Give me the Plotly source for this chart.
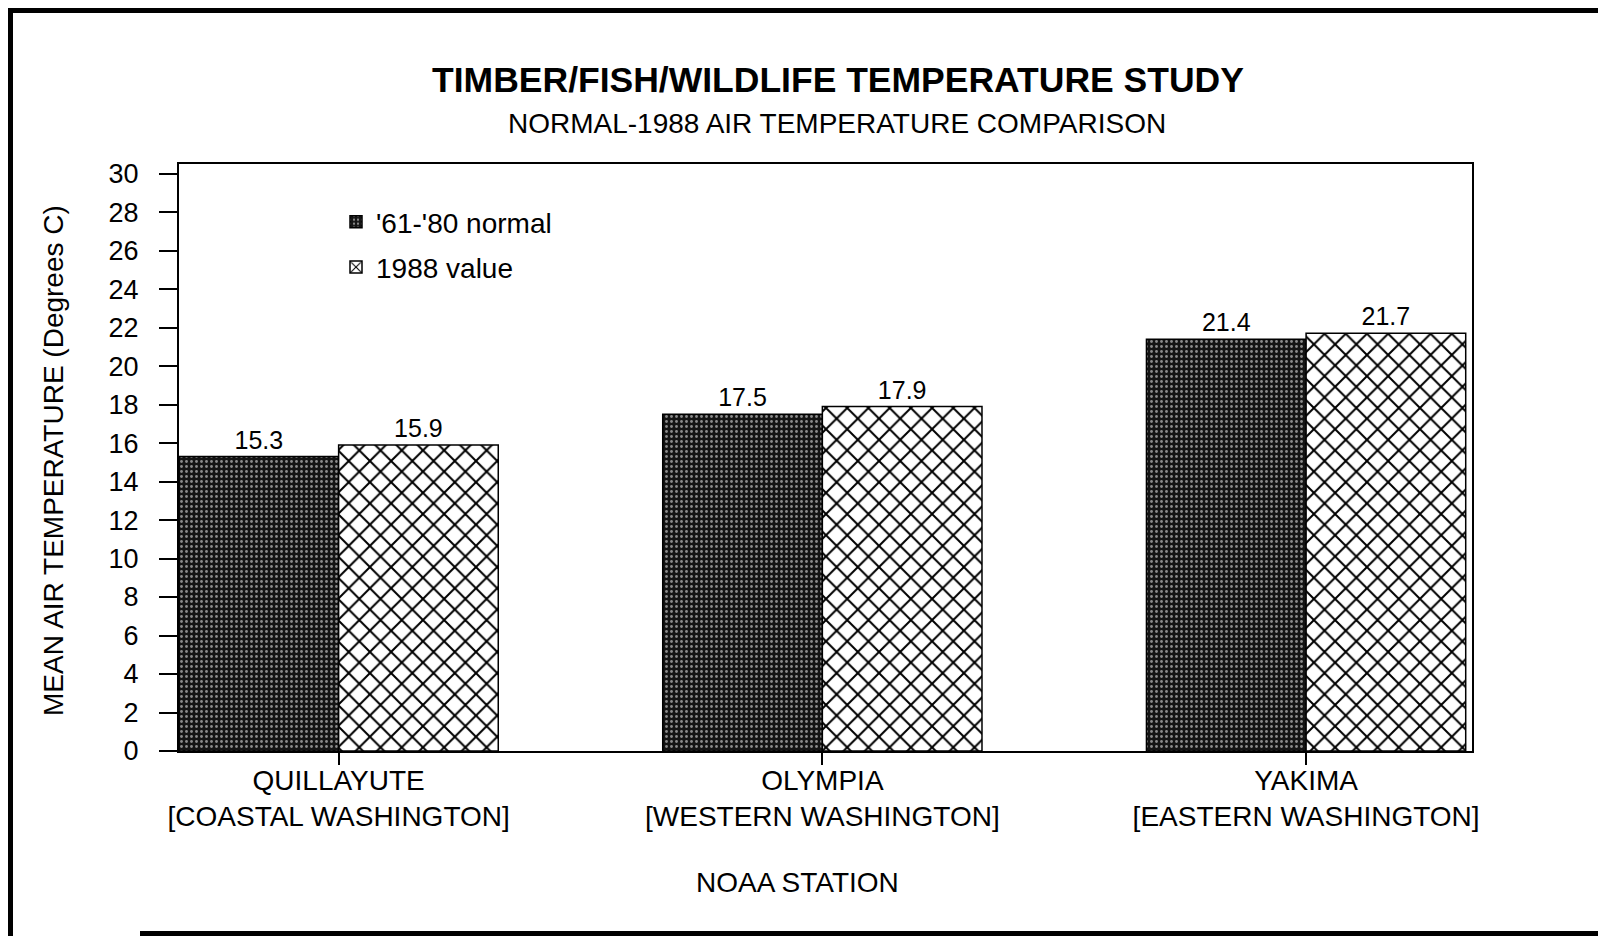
import plotly.graph_objects as go

stations = ["QUILLAYUTE<br>[COASTAL WASHINGTON]",
            "OLYMPIA<br>[WESTERN WASHINGTON]",
            "YAKIMA<br>[EASTERN WASHINGTON]"]
normal_61_80 = [15.3, 17.5, 21.4]
value_1988 = [15.9, 17.9, 21.7]
y_ticks = list(range(0, 31, 2))

FONT = "Liberation Sans, Arial, Helvetica, sans-serif"
NARROW = "Liberation Sans Narrow, Arial Narrow, Liberation Sans, sans-serif"

# page offset (browser body margin) compensation
OFF = 8
PL, PR, PT, PB = 179, 1472, 164, 751   # plot area in page pixels
PW, PH = PR - PL, PB - PT


def px(x):
    return (x - PL) / PW


def py(y):
    return (PB - y) / PH


fig = go.Figure()
fig.add_trace(go.Bar(
    x=stations, y=normal_61_80, name="'61-'80 normal",
    text=[f"{v:.1f}" for v in normal_61_80], textposition="outside",
    textfont=dict(size=25, color="black", family=FONT), cliponaxis=False,
    marker=dict(color="#1a1a1a", line=dict(color="black", width=1.5),
                pattern=dict(shape=".", fgcolor="#8c8c8c", bgcolor="#141414",
                             size=5, solidity=0.25, fillmode="replace")),
    legendgroup="a",
))
fig.add_trace(go.Bar(
    x=stations, y=value_1988, name="1988 value",
    text=[f"{v:.1f}" for v in value_1988], textposition="outside",
    textfont=dict(size=25, color="black", family=FONT), cliponaxis=False,
    marker=dict(color="white", line=dict(color="black", width=1.5),
                pattern=dict(shape="x", fgcolor="black", bgcolor="white",
                             size=15, solidity=0.25, fillmode="replace")),
    legendgroup="b",
))

fig.update_layout(
    width=1606, height=936,
    margin=dict(l=PL - OFF, r=1606 - (PR - OFF), t=PT - OFF, b=936 - (PB - OFF)),
    paper_bgcolor="white", plot_bgcolor="white",
    font=dict(family=FONT, size=27, color="black"),
    barmode="group", bargap=0.34, bargroupgap=0,
    title=dict(text="<b>TIMBER/FISH/WILDLIFE TEMPERATURE STUDY</b>",
               font=dict(family=NARROW, size=35.5, color="black"),
               x=(838 - OFF) / 1606, xanchor="center",
               y=1 - (80 - OFF) / 936, yanchor="middle",
               xref="container", yref="container"),
    showlegend=True,
    legend=dict(x=px(336), y=py(197), xanchor="left", yanchor="top",
                bgcolor="rgba(0,0,0,0)", font=dict(size=28, family=FONT),
                tracegroupgap=6, traceorder="grouped"),
    xaxis=dict(type="category", range=[-0.33, 2.343],
               showline=True, linecolor="black", linewidth=2, mirror=True,
               ticks="outside", ticklen=12, tickwidth=1.5, tickcolor="black",
               tickfont=dict(size=28, family=FONT), showgrid=False,
               ticklabelstandoff=-9),
    yaxis=dict(range=[0, 30.5], tickvals=y_ticks,
               showline=True, linecolor="black", linewidth=2, mirror=True,
               ticks="outside", ticklen=18, tickwidth=1.5, tickcolor="black",
               tickfont=dict(size=27, family=FONT), showgrid=False, zeroline=False,
               ticklabelstandoff=15),
    annotations=[
        dict(text="NORMAL-1988 AIR TEMPERATURE COMPARISON",
             x=px(837), y=py(124), xanchor="center", yanchor="middle",
             xref="paper", yref="paper", showarrow=False,
             font=dict(family=NARROW, size=28, color="black")),
        dict(text="MEAN AIR TEMPERATURE (Degrees C)", textangle=-90,
             x=px(53), y=py(461), xanchor="center", yanchor="middle",
             xref="paper", yref="paper",
             showarrow=False, font=dict(size=28, family=FONT)),
        dict(text="NOAA STATION", x=px(797), y=py(882),
             xanchor="center", yanchor="middle",
             xref="paper", yref="paper", showarrow=False,
             font=dict(size=28, family=FONT)),
    ],
    shapes=[
        dict(type="line", xref="paper", yref="paper",
             x0=px(OFF + 2), x1=px(OFF + 2), y0=py(8), y1=py(950),
             line=dict(color="black", width=6)),
        dict(type="line", xref="paper", yref="paper",
             x0=px(OFF), x1=px(1640), y0=py(10), y1=py(10),
             line=dict(color="black", width=6)),
        dict(type="line", xref="paper", yref="paper",
             x0=px(140), x1=px(1640), y0=py(934), y1=py(934),
             line=dict(color="black", width=6)),
    ],
)

fig.write_html("out.html")
